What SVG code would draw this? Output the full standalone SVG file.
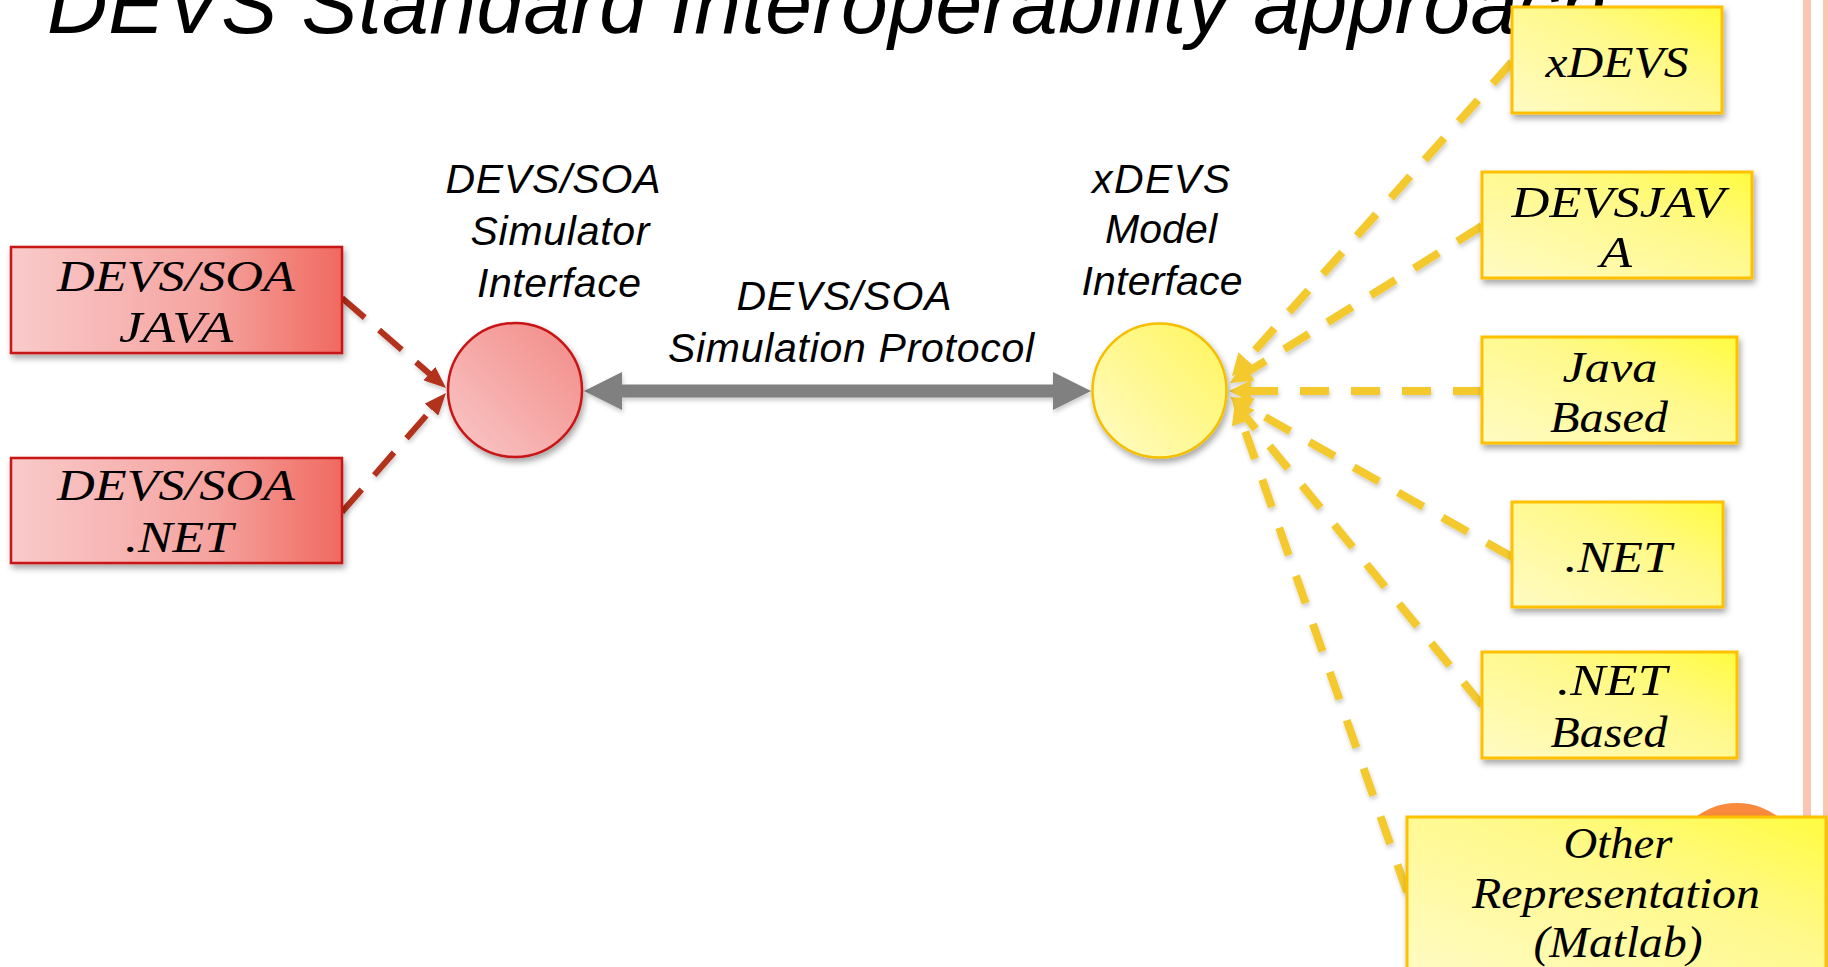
<svg xmlns="http://www.w3.org/2000/svg" width="1828" height="967" viewBox="0 0 1828 967">
<style>
.title{font-family:"Liberation Sans",Arial,sans-serif;font-style:italic;font-size:84px;fill:#000}
.lbl{font-family:"Liberation Sans",Arial,sans-serif;font-style:italic;font-size:41px;fill:#000;text-anchor:middle}
.bt{font-family:"Liberation Serif","Times New Roman",serif;font-style:italic;font-size:44px;fill:#000;text-anchor:middle}
.rbox{fill:url(#gRed);stroke:#C81414;stroke-width:2.5}
.ybox{fill:url(#gYel);stroke:#FFC000;stroke-width:3}
.ylin{fill:none;stroke:#F3C92F;stroke-width:8;stroke-dasharray:29 22}
.rlin{fill:none;stroke:#B3301F;stroke-width:6;stroke-dasharray:30 19}
</style>
<defs>
<linearGradient id="gRed" x1="0" y1="0" x2="1" y2="0">
<stop offset="0" stop-color="#F9CACA"/><stop offset="0.6" stop-color="#F5A4A0"/><stop offset="1" stop-color="#F06A60"/>
</linearGradient>
<linearGradient id="gRedC" x1="0" y1="1" x2="1" y2="0">
<stop offset="0" stop-color="#F9C8C8"/><stop offset="1" stop-color="#F28A86"/>
</linearGradient>
<linearGradient id="gYel" x1="0" y1="1" x2="1" y2="0">
<stop offset="0" stop-color="#FFFBC4"/><stop offset="0.6" stop-color="#FFF98A"/><stop offset="1" stop-color="#FFFC40"/>
</linearGradient>
<linearGradient id="gYelC" x1="0" y1="1" x2="1" y2="0">
<stop offset="0" stop-color="#FFFBC8"/><stop offset="1" stop-color="#FFF55A"/>
</linearGradient>
<filter id="sh" x="-10%" y="-10%" width="130%" height="140%">
<feDropShadow dx="2" dy="4" stdDeviation="3" flood-color="#000" flood-opacity="0.35"/>
</filter>
<filter id="shl" x="-10%" y="-10%" width="130%" height="130%">
<feDropShadow dx="1" dy="3" stdDeviation="2" flood-color="#000" flood-opacity="0.2"/>
</filter>
<marker id="ar" markerUnits="userSpaceOnUse" viewBox="0 0 22 18" refX="2" refY="9" markerWidth="22" markerHeight="18" orient="auto">
<path d="M0,0 L22,9 L0,18 Z" fill="#B3301F"/>
</marker>
<marker id="ay" markerUnits="userSpaceOnUse" viewBox="0 0 22 22" refX="2" refY="11" markerWidth="22" markerHeight="22" orient="auto">
<path d="M0,0 L22,11 L0,22 Z" fill="#F3C92F"/>
</marker>
</defs>
<rect width="1828" height="967" fill="#fff"/>
<g id="frame">
<rect x="1803" y="0" width="8" height="967" fill="#FAC6B4"/>
<rect x="1823" y="0" width="5" height="967" fill="#FAC6B4"/>
<circle cx="1737" cy="871" r="68" fill="#F98A3C"/>
</g>
<text id="title" class="title" x="47" y="33" textLength="1560" lengthAdjust="spacing">DEVS Standard Interoperability approach</text>
<g id="connectors">
<g filter="url(#shl)">
<path class="rlin" d="M342,298 L430.9,374.9" marker-end="url(#ar)"/>
<path class="rlin" d="M342,512 L432.8,408.1" marker-end="url(#ar)"/>
<path d="M584,391 L622,372 L622,384.5 L1053,384.5 L1053,372 L1091,391 L1053,410 L1053,397.5 L622,397.5 L622,410 Z" fill="#808080"/>
<path class="ylin" d="M1512,62 L1245.3,361.1" marker-end="url(#ay)"/>
<path class="ylin" d="M1482,226 L1247,372.4" marker-end="url(#ay)"/>
<path class="ylin" d="M1482,391 L1249,391" marker-end="url(#ay)"/>
<path class="ylin" d="M1512,557 L1247.4,406.9" marker-end="url(#ay)"/>
<path class="ylin" d="M1482,705 L1244.7,415.5" marker-end="url(#ay)"/>
<path class="ylin" d="M1407,892 L1241.6,420.9" marker-end="url(#ay)"/>
</g>
</g>
<g id="simIface">
<circle cx="515" cy="390" r="67" fill="url(#gRedC)" stroke="#C81414" stroke-width="2.5" filter="url(#sh)"/>
<text class="lbl" x="553" y="193" textLength="215">DEVS/SOA</text>
<text class="lbl" x="560" y="245" textLength="179">Simulator</text>
<text class="lbl" x="559" y="297" textLength="164">Interface</text>
</g>
<g id="protocolLabel">
<text class="lbl" x="844" y="310" textLength="215">DEVS/SOA</text>
<text class="lbl" x="851" y="362" textLength="366">Simulation Protocol</text>
</g>
<g id="modelIface">
<circle cx="1159.5" cy="390.5" r="67" fill="url(#gYelC)" stroke="#F5BE00" stroke-width="2.5" filter="url(#sh)"/>
<text class="lbl" x="1161" y="193" textLength="138">xDEVS</text>
<text class="lbl" x="1161" y="243" textLength="112">Model</text>
<text class="lbl" x="1162" y="295" textLength="161">Interface</text>
</g>
<g id="soaJava">
<rect class="rbox" x="11" y="247" width="331" height="106" filter="url(#sh)"/>
<text class="bt" x="176" y="291" textLength="238" lengthAdjust="spacingAndGlyphs">DEVS/SOA</text>
<text class="bt" x="176" y="342" textLength="114" lengthAdjust="spacingAndGlyphs">JAVA</text>
</g>
<g id="soaNet">
<rect class="rbox" x="11" y="458" width="331" height="105" filter="url(#sh)"/>
<text class="bt" x="176" y="500" textLength="238" lengthAdjust="spacingAndGlyphs">DEVS/SOA</text>
<text class="bt" x="179" y="552" textLength="108" lengthAdjust="spacingAndGlyphs">.NET</text>
</g>
<g id="xdevs">
<rect class="ybox" x="1512" y="7" width="210" height="106" filter="url(#sh)"/>
<text class="bt" x="1617" y="77" textLength="143" lengthAdjust="spacingAndGlyphs">xDEVS</text>
</g>
<g id="devsjava">
<rect class="ybox" x="1482" y="172" width="270" height="106" filter="url(#sh)"/>
<text class="bt" x="1618" y="217" textLength="213" lengthAdjust="spacingAndGlyphs">DEVSJAV</text>
<text class="bt" x="1616" y="267" textLength="32" lengthAdjust="spacingAndGlyphs">A</text>
</g>
<g id="javaBased">
<rect class="ybox" x="1482" y="337" width="255" height="106" filter="url(#sh)"/>
<text class="bt" x="1610" y="382" textLength="95" lengthAdjust="spacingAndGlyphs">Java</text>
<text class="bt" x="1609" y="432" textLength="118" lengthAdjust="spacingAndGlyphs">Based</text>
</g>
<g id="net">
<rect class="ybox" x="1512" y="502" width="211" height="105" filter="url(#sh)"/>
<text class="bt" x="1618" y="572" textLength="107" lengthAdjust="spacingAndGlyphs">.NET</text>
</g>
<g id="netBased">
<rect class="ybox" x="1482" y="652" width="255" height="106" filter="url(#sh)"/>
<text class="bt" x="1612" y="695" textLength="110" lengthAdjust="spacingAndGlyphs">.NET</text>
<text class="bt" x="1609" y="747" textLength="117" lengthAdjust="spacingAndGlyphs">Based</text>
</g>
<g id="matlab">
<rect class="ybox" x="1407" y="817" width="419" height="160" filter="url(#sh)"/>
<text class="bt" x="1618" y="858" textLength="109" lengthAdjust="spacingAndGlyphs">Other</text>
<text class="bt" x="1616" y="908" textLength="288" lengthAdjust="spacingAndGlyphs">Representation</text>
<text class="bt" x="1618" y="957" textLength="169" lengthAdjust="spacingAndGlyphs">(Matlab)</text>
</g>
</svg>
